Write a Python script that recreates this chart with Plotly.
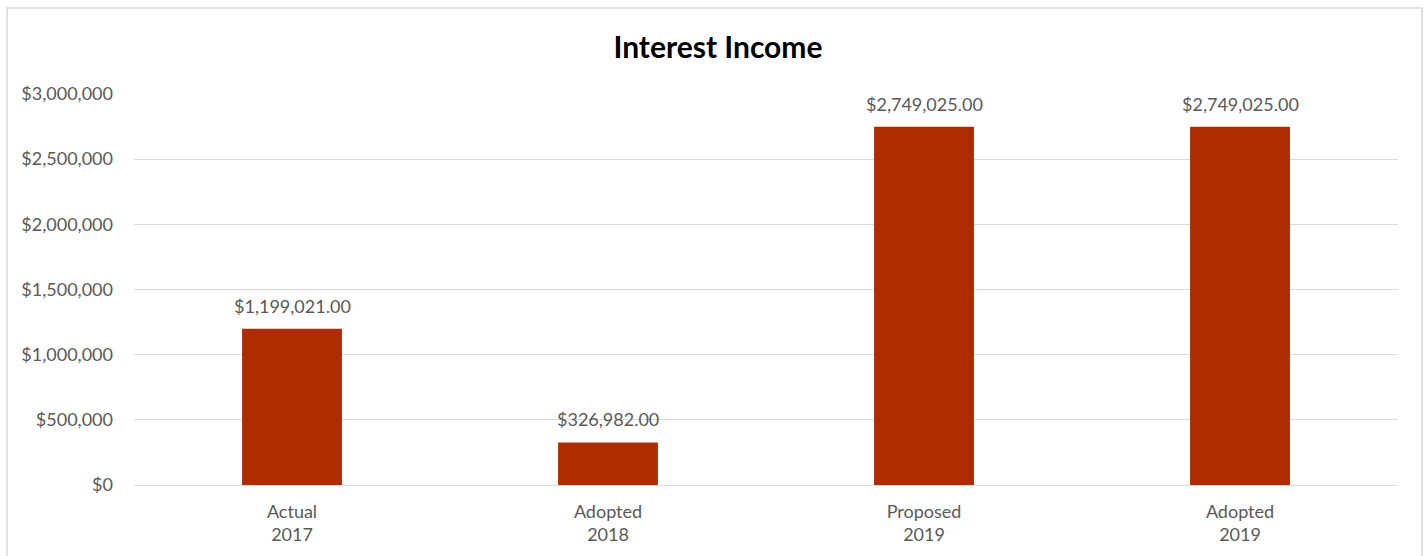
import plotly.graph_objects as go

categories = ["Actual<br>2017", "Adopted<br>2018", "Proposed<br>2019", "Adopted<br>2019"]
values = [1199021.00, 326982.00, 2749025.00, 2749025.00]
tick_values = [0, 500000, 1000000, 1500000, 2000000, 2500000, 3000000]
tick_labels = ["$0", "$500,000", "$1,000,000", "$1,500,000", "$2,000,000", "$2,500,000", "$3,000,000"]

bar_color = "#AE2C00"
text_color = "#595959"
grid_color = "#D9D9D9"
font_family = "Lato, 'Open Sans', sans-serif"

fig = go.Figure(
    go.Bar(
        x=categories,
        y=values,
        width=0.316,
        marker=dict(color=bar_color, line=dict(width=0)),
        hoverinfo="x+y",
    )
)

# value labels above each bar
for cat, val in zip(categories, values):
    fig.add_annotation(
        x=cat,
        y=val,
        text=f"${val:,.2f}",
        showarrow=False,
        yanchor="bottom",
        yshift=10,
        font=dict(size=18, color=text_color, family=font_family),
    )

W, H = 1425, 556
ml, mr, mt, mb = 134, 27, 94, 71
pw, ph = W - ml - mr, H - mt - mb

def px_to_paper_x(px):
    return (px - ml) / pw

def px_to_paper_y(py):
    return (H - mb - py) / ph

fig.update_layout(
    width=W,
    height=H,
    margin=dict(l=ml, r=mr, t=mt, b=mb, pad=0),
    paper_bgcolor="white",
    plot_bgcolor="white",
    showlegend=False,
    font=dict(family=font_family, color=text_color, size=18),
    title=dict(
        text="<b>Interest Income</b>",
        x=px_to_paper_x(718),
        xref="paper",
        xanchor="center",
        y=1 - 47 / H,
        yref="container",
        yanchor="middle",
        font=dict(size=30, color="black", family=font_family),
    ),
    bargap=0.684,
    xaxis=dict(
        showgrid=False,
        showline=False,
        ticks="",
        ticklabelstandoff=14,
        tickfont=dict(size=18, color=text_color),
    ),
    yaxis=dict(
        range=[0, 3000000],
        tickvals=tick_values,
        ticktext=tick_labels,
        showgrid=True,
        gridcolor=grid_color,
        gridwidth=1,
        zeroline=True,
        zerolinecolor=grid_color,
        zerolinewidth=1,
        showline=False,
        ticks="",
        ticklabelstandoff=20,
        tickfont=dict(size=18, color=text_color),
    ),
    shapes=[
        dict(
            type="rect",
            xref="paper",
            yref="paper",
            x0=px_to_paper_x(7),
            x1=px_to_paper_x(1422),
            y0=px_to_paper_y(600),
            y1=px_to_paper_y(8),
            line=dict(color="#D9D9D9", width=1.5),
            fillcolor="rgba(0,0,0,0)",
            layer="below",
        )
    ],
)

fig.write_html("out.html")
